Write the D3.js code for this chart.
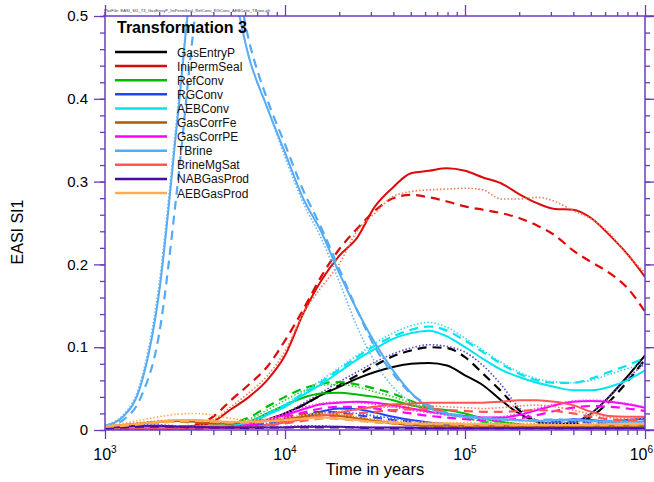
<!DOCTYPE html>
<meta charset="utf-8">
<style>

    body {
        margin: 0;
        background: #fff;
    }

    text {
        font-family: "Liberation Sans", Arial, sans-serif;
    }

    .axis-line {
        stroke: #6a3bc4;
        stroke-width: 1.5;
        fill: none;
    }

</style>
<body>
<script src="https://cdn.jsdelivr.net/npm/d3@7/dist/d3.min.js"></script>
<script>

    var width = 654;
    var height = 482;

    var LEFT = 105, RIGHT = 645, TOP = 16, BOTTOM = 430;
    var AXIS_COLOR = "#6a3bc4";

    /////////////////////////////////
    // DATA
    /////////////////////////////////

    var years = [1000, 1259, 1585, 1995, 2512, 3162, 3981, 5012, 6310, 7943,
        10000, 12589, 15849, 19953, 25119, 31623, 39811, 50119, 63096, 79433,
        100000, 125893, 158489, 199526, 251189, 316228, 398107, 501187, 630957, 794328, 1000000];

    var yTicks = [0, 0.1, 0.2, 0.3, 0.4, 0.5];
    var xTickPowers = [3, 4, 5, 6];

    var gasEntryP1 = [0.002, 0.002, 0.002, 0.002, 0.002, 0.002, 0.003, 0.004, 0.006, 0.012, 0.02, 0.03, 0.042, 0.052, 0.062, 0.07, 0.076, 0.08, 0.081, 0.078, 0.066, 0.054, 0.036, 0.02, 0.01, 0.007, 0.009, 0.02, 0.04, 0.064, 0.09];
    var gasEntryP2 = [0.002, 0.002, 0.002, 0.002, 0.002, 0.002, 0.003, 0.004, 0.006, 0.012, 0.02, 0.03, 0.042, 0.054, 0.066, 0.078, 0.089, 0.096, 0.1, 0.099, 0.088, 0.068, 0.047, 0.024, 0.01, 0.007, 0.007, 0.016, 0.034, 0.058, 0.085];
    var gasEntryP3 = [0.002, 0.002, 0.002, 0.002, 0.002, 0.002, 0.003, 0.004, 0.006, 0.012, 0.02, 0.032, 0.045, 0.058, 0.07, 0.082, 0.092, 0.099, 0.103, 0.101, 0.094, 0.078, 0.055, 0.027, 0.012, 0.008, 0.01, 0.02, 0.04, 0.062, 0.08];

    var iniPermSeal1 = [0.004, 0.004, 0.004, 0.004, 0.004, 0.005, 0.01, 0.025, 0.04, 0.06, 0.09, 0.14, 0.18, 0.21, 0.232, 0.27, 0.293, 0.31, 0.313, 0.316, 0.313, 0.305, 0.298, 0.285, 0.274, 0.267, 0.266, 0.256, 0.236, 0.213, 0.185];
    var iniPermSeal2 = [0.004, 0.004, 0.004, 0.004, 0.004, 0.006, 0.016, 0.036, 0.055, 0.076, 0.108, 0.145, 0.185, 0.218, 0.243, 0.265, 0.28, 0.284, 0.281, 0.276, 0.27, 0.266, 0.262, 0.256, 0.247, 0.235, 0.217, 0.203, 0.19, 0.172, 0.143];
    var iniPermSeal3 = [0.004, 0.004, 0.004, 0.004, 0.004, 0.005, 0.012, 0.028, 0.045, 0.065, 0.095, 0.14, 0.172, 0.2, 0.24, 0.262, 0.282, 0.288, 0.29, 0.291, 0.292, 0.29, 0.279, 0.279, 0.281, 0.276, 0.265, 0.255, 0.238, 0.212, 0.19];

    var refConv1 = [0.002, 0.002, 0.002, 0.002, 0.002, 0.002, 0.003, 0.005, 0.01, 0.02, 0.03, 0.039, 0.044, 0.045, 0.043, 0.04, 0.036, 0.03, 0.026, 0.024, 0.02, 0.014, 0.01, 0.007, 0.005, 0.004, 0.004, 0.004, 0.004, 0.004, 0.004];
    var refConv2 = [0.002, 0.002, 0.002, 0.002, 0.002, 0.003, 0.004, 0.008, 0.015, 0.028, 0.04, 0.05, 0.056, 0.058, 0.055, 0.05, 0.044, 0.035, 0.027, 0.02, 0.015, 0.01, 0.007, 0.005, 0.005, 0.004, 0.004, 0.004, 0.004, 0.004, 0.004];
    var refConv3 = [0.002, 0.002, 0.002, 0.002, 0.002, 0.003, 0.004, 0.007, 0.013, 0.024, 0.036, 0.047, 0.054, 0.055, 0.052, 0.046, 0.04, 0.033, 0.026, 0.02, 0.015, 0.01, 0.007, 0.005, 0.005, 0.004, 0.004, 0.004, 0.004, 0.004, 0.004];

    var rgConv1 = [0.003, 0.003, 0.003, 0.003, 0.003, 0.003, 0.003, 0.003, 0.004, 0.006, 0.01, 0.016, 0.022, 0.026, 0.025, 0.021, 0.016, 0.012, 0.009, 0.007, 0.006, 0.006, 0.006, 0.006, 0.006, 0.01, 0.013, 0.012, 0.01, 0.012, 0.014];
    var rgConv2 = [0.003, 0.003, 0.003, 0.003, 0.003, 0.003, 0.003, 0.003, 0.005, 0.008, 0.013, 0.019, 0.022, 0.021, 0.018, 0.015, 0.012, 0.01, 0.008, 0.007, 0.006, 0.006, 0.005, 0.005, 0.007, 0.009, 0.01, 0.009, 0.009, 0.011, 0.013];
    var rgConv3 = [0.003, 0.003, 0.003, 0.003, 0.003, 0.003, 0.003, 0.004, 0.005, 0.008, 0.012, 0.017, 0.02, 0.022, 0.02, 0.017, 0.014, 0.011, 0.009, 0.007, 0.006, 0.005, 0.005, 0.006, 0.008, 0.011, 0.012, 0.011, 0.01, 0.012, 0.015];

    var aebConv1 = [0.003, 0.003, 0.003, 0.003, 0.004, 0.004, 0.005, 0.006, 0.008, 0.018, 0.028, 0.042, 0.055, 0.07, 0.085, 0.098, 0.11, 0.117, 0.12, 0.113, 0.1, 0.086, 0.073, 0.064, 0.057, 0.052, 0.048, 0.048, 0.052, 0.06, 0.072];
    var aebConv2 = [0.003, 0.003, 0.003, 0.003, 0.004, 0.004, 0.005, 0.006, 0.009, 0.019, 0.03, 0.044, 0.058, 0.073, 0.088, 0.102, 0.113, 0.121, 0.125, 0.12, 0.108, 0.094, 0.08, 0.068, 0.06, 0.057, 0.057, 0.062, 0.07, 0.078, 0.087];
    var aebConv3 = [0.003, 0.003, 0.003, 0.003, 0.004, 0.004, 0.005, 0.007, 0.01, 0.02, 0.031, 0.045, 0.06, 0.075, 0.09, 0.105, 0.117, 0.126, 0.13, 0.124, 0.111, 0.096, 0.082, 0.07, 0.062, 0.058, 0.057, 0.06, 0.067, 0.074, 0.08];

    var gasCorrFe1 = [0.004, 0.006, 0.008, 0.01, 0.011, 0.01, 0.008, 0.008, 0.009, 0.011, 0.013, 0.016, 0.018, 0.017, 0.014, 0.011, 0.008, 0.006, 0.005, 0.005, 0.005, 0.005, 0.004, 0.004, 0.004, 0.004, 0.005, 0.005, 0.005, 0.005, 0.005];
    var gasCorrFe2 = [0.004, 0.005, 0.007, 0.009, 0.01, 0.009, 0.008, 0.008, 0.01, 0.013, 0.016, 0.019, 0.02, 0.018, 0.015, 0.011, 0.008, 0.006, 0.005, 0.005, 0.004, 0.004, 0.004, 0.004, 0.004, 0.004, 0.004, 0.005, 0.005, 0.005, 0.005];
    var gasCorrFe3 = [0.005, 0.007, 0.009, 0.011, 0.012, 0.011, 0.009, 0.008, 0.009, 0.011, 0.014, 0.017, 0.019, 0.018, 0.015, 0.012, 0.009, 0.007, 0.006, 0.005, 0.005, 0.005, 0.005, 0.004, 0.004, 0.004, 0.005, 0.005, 0.005, 0.005, 0.005];

    var gasCorrPE1 = [0.003, 0.003, 0.003, 0.003, 0.003, 0.003, 0.003, 0.003, 0.006, 0.012, 0.018, 0.025, 0.031, 0.033, 0.034, 0.033, 0.03, 0.026, 0.022, 0.019, 0.017, 0.015, 0.015, 0.018, 0.024, 0.03, 0.034, 0.035, 0.034, 0.031, 0.027];
    var gasCorrPE2 = [0.003, 0.003, 0.003, 0.003, 0.003, 0.003, 0.003, 0.004, 0.006, 0.01, 0.015, 0.021, 0.026, 0.028, 0.028, 0.026, 0.023, 0.02, 0.017, 0.015, 0.013, 0.012, 0.012, 0.014, 0.018, 0.023, 0.027, 0.029, 0.028, 0.026, 0.023];
    var gasCorrPE3 = [0.003, 0.003, 0.003, 0.003, 0.003, 0.003, 0.003, 0.004, 0.007, 0.013, 0.02, 0.027, 0.032, 0.034, 0.033, 0.031, 0.028, 0.024, 0.021, 0.018, 0.016, 0.015, 0.016, 0.02, 0.026, 0.031, 0.035, 0.036, 0.035, 0.032, 0.028];

    var tBrine1 = [0.005, 0.016, 0.055, 0.165, 0.37, 0.58, 0.66, 0.55, 0.45, 0.39, 0.335, 0.28, 0.24, 0.19, 0.145, 0.105, 0.072, 0.045, 0.027, 0.02, 0.016, 0.014, 0.013, 0.012, 0.011, 0.012, 0.012, 0.011, 0.01, 0.01, 0.01];
    var tBrine2 = [0.004, 0.012, 0.04, 0.115, 0.29, 0.5, 0.66, 0.58, 0.47, 0.4, 0.345, 0.29, 0.245, 0.195, 0.145, 0.1, 0.068, 0.044, 0.03, 0.021, 0.017, 0.015, 0.013, 0.012, 0.012, 0.013, 0.012, 0.011, 0.011, 0.01, 0.01];
    var tBrine3 = [0.006, 0.018, 0.06, 0.175, 0.38, 0.58, 0.65, 0.55, 0.45, 0.39, 0.33, 0.275, 0.232, 0.18, 0.125, 0.082, 0.052, 0.034, 0.024, 0.018, 0.015, 0.013, 0.012, 0.011, 0.011, 0.011, 0.011, 0.01, 0.01, 0.01, 0.01];

    var brineMgSat1 = [0.003, 0.003, 0.003, 0.003, 0.003, 0.003, 0.003, 0.003, 0.003, 0.006, 0.009, 0.013, 0.017, 0.021, 0.025, 0.028, 0.031, 0.032, 0.033, 0.033, 0.033, 0.033, 0.034, 0.036, 0.036, 0.034, 0.03, 0.022, 0.017, 0.016, 0.016];
    var brineMgSat2 = [0.003, 0.003, 0.003, 0.003, 0.003, 0.003, 0.003, 0.003, 0.003, 0.005, 0.008, 0.011, 0.014, 0.017, 0.02, 0.022, 0.024, 0.025, 0.025, 0.024, 0.023, 0.022, 0.022, 0.023, 0.024, 0.023, 0.02, 0.016, 0.013, 0.012, 0.012];
    var brineMgSat3 = [0.003, 0.003, 0.003, 0.003, 0.003, 0.003, 0.003, 0.003, 0.003, 0.006, 0.01, 0.014, 0.018, 0.022, 0.025, 0.027, 0.028, 0.029, 0.029, 0.028, 0.027, 0.026, 0.027, 0.029, 0.03, 0.028, 0.024, 0.019, 0.015, 0.014, 0.014];

    var nabGasProd1 = [0.003, 0.004, 0.005, 0.005, 0.004, 0.004, 0.003, 0.003, 0.003, 0.003, 0.003, 0.004, 0.004, 0.004, 0.003, 0.003, 0.003, 0.003, 0.002, 0.002, 0.002, 0.002, 0.002, 0.002, 0.002, 0.002, 0.002, 0.002, 0.002, 0.002, 0.002];
    var nabGasProd2 = [0.002, 0.003, 0.004, 0.004, 0.004, 0.003, 0.003, 0.003, 0.002, 0.003, 0.003, 0.003, 0.003, 0.003, 0.003, 0.002, 0.002, 0.002, 0.002, 0.002, 0.002, 0.002, 0.002, 0.002, 0.002, 0.002, 0.002, 0.002, 0.002, 0.002, 0.002];
    var nabGasProd3 = [0.003, 0.005, 0.006, 0.006, 0.005, 0.004, 0.004, 0.003, 0.003, 0.003, 0.004, 0.005, 0.005, 0.004, 0.004, 0.003, 0.003, 0.003, 0.003, 0.003, 0.003, 0.003, 0.003, 0.003, 0.003, 0.003, 0.003, 0.003, 0.003, 0.003, 0.003];

    var aebGasProd1 = [0.004, 0.006, 0.008, 0.01, 0.012, 0.012, 0.011, 0.01, 0.01, 0.011, 0.012, 0.014, 0.015, 0.014, 0.012, 0.01, 0.009, 0.008, 0.008, 0.008, 0.007, 0.007, 0.007, 0.006, 0.006, 0.006, 0.006, 0.006, 0.007, 0.007, 0.007];
    var aebGasProd2 = [0.004, 0.005, 0.007, 0.009, 0.01, 0.011, 0.01, 0.009, 0.009, 0.01, 0.012, 0.013, 0.014, 0.013, 0.011, 0.009, 0.008, 0.007, 0.007, 0.007, 0.006, 0.006, 0.006, 0.006, 0.006, 0.006, 0.006, 0.006, 0.006, 0.006, 0.006];
    var aebGasProd3 = [0.005, 0.008, 0.012, 0.016, 0.019, 0.02, 0.018, 0.014, 0.012, 0.013, 0.015, 0.018, 0.02, 0.019, 0.016, 0.013, 0.011, 0.01, 0.009, 0.009, 0.009, 0.008, 0.008, 0.008, 0.008, 0.008, 0.008, 0.008, 0.008, 0.008, 0.008];

    // name, colour, colour of the dotted run, and the three runs (solid, dashed, dotted)
    var series = [
        {name: "GasEntryP", color: "#000000", dot: "#5a46c8", runs: [gasEntryP1, gasEntryP2, gasEntryP3]},
        {name: "IniPermSeal", color: "#dd0a0a", dot: "#f07a5a", runs: [iniPermSeal1, iniPermSeal2, iniPermSeal3]},
        {name: "RefConv", color: "#00bb00", dot: "#33cc33", runs: [refConv1, refConv2, refConv3]},
        {name: "RGConv", color: "#2244ff", dot: "#4466ff", runs: [rgConv1, rgConv2, rgConv3]},
        {name: "AEBConv", color: "#00e5f0", dot: "#33d8f0", runs: [aebConv1, aebConv2, aebConv3]},
        {name: "GasCorrFe", color: "#b35a00", dot: "#c07020", runs: [gasCorrFe1, gasCorrFe2, gasCorrFe3]},
        {name: "GasCorrPE", color: "#ff00ff", dot: "#ff33ff", runs: [gasCorrPE1, gasCorrPE2, gasCorrPE3]},
        {name: "TBrine", color: "#55aaf5", dot: "#66b4f8", runs: [tBrine1, tBrine2, tBrine3]},
        {name: "BrineMgSat", color: "#ff5555", dot: "#ff7755", runs: [brineMgSat1, brineMgSat2, brineMgSat3]},
        {name: "NABGasProd", color: "#4b0aa0", dot: "#5a2ab0", runs: [nabGasProd1, nabGasProd2, nabGasProd3]},
        {name: "AEBGasProd", color: "#ffaa55", dot: "#ffaa55", runs: [aebGasProd1, aebGasProd2, aebGasProd3]}
    ];

    var runStyles = [
        {dash: null, width: 2},
        {dash: "9,6", width: 2.2},
        {dash: "1.5,2", width: 1.6}
    ];

    /////////////////////////////////
    // SETUP
    /////////////////////////////////

    var svg = d3.select("body").append("svg")
        .attr("width", width)
        .attr("height", height);

    var x = d3.scaleLog()
        .domain([1000, 1000000])
        .range([LEFT, RIGHT]);

    var y = d3.scaleLinear()
        .domain([0, 0.5])
        .range([BOTTOM, TOP]);

    svg.append("clipPath")
        .attr("id", "plot-clip")
        .append("rect")
        .attr("x", LEFT)
        .attr("y", TOP)
        .attr("width", RIGHT - LEFT)
        .attr("height", BOTTOM - TOP);

    /////////////////////////////////
    // LINES
    /////////////////////////////////

    var line = d3.line()
        .x(function (d, i) { return x(years[i]); })
        .y(function (d) { return y(d); })
        .curve(d3.curveMonotoneX);

    var plot = svg.append("g").attr("clip-path", "url(#plot-clip)");

    series.forEach(function (s) {
        s.runs.forEach(function (run, k) {
            plot.append("path")
                .datum(run)
                .attr("d", line)
                .attr("fill", "none")
                .attr("stroke", k === 2 ? s.dot : s.color)
                .attr("stroke-width", runStyles[k].width)
                .attr("stroke-dasharray", runStyles[k].dash)
                .attr("stroke-linejoin", "round");
        });
    });

    /////////////////////////////////
    // AXES
    /////////////////////////////////

    var yMinor = d3.range(0, 0.5001, 0.02);
    var xMinor = [];
    xTickPowers.slice(0, 3).forEach(function (p) {
        for (var m = 2; m <= 9; m++) xMinor.push(m * Math.pow(10, p));
    });

    var leftAxis = d3.axisLeft(y).tickValues(yMinor).tickSize(5).tickFormat("");
    var rightAxis = d3.axisRight(y).tickValues(yMinor).tickSize(5).tickFormat("");
    var bottomAxis = d3.axisBottom(x).tickValues(xMinor).tickSize(5).tickFormat("");
    var topAxis = d3.axisTop(x).tickValues(xMinor).tickSize(4).tickFormat("");

    function styleAxis(g) {
        g.select(".domain").remove();
        g.selectAll("line").attr("stroke", AXIS_COLOR).attr("stroke-width", 1.3);
    }

    svg.append("g").attr("transform", "translate(" + LEFT + ",0)").call(leftAxis).call(styleAxis);
    svg.append("g").attr("transform", "translate(" + RIGHT + ",0)").call(rightAxis).call(styleAxis);
    svg.append("g").attr("transform", "translate(0," + BOTTOM + ")").call(bottomAxis).call(styleAxis);
    svg.append("g").attr("transform", "translate(0," + TOP + ")").call(topAxis).call(styleAxis);

    // major ticks
    svg.append("g").attr("transform", "translate(" + LEFT + ",0)")
        .call(d3.axisLeft(y).tickValues(yTicks).tickSize(11).tickFormat("")).call(styleAxis);
    svg.append("g").attr("transform", "translate(" + RIGHT + ",0)")
        .call(d3.axisRight(y).tickValues(yTicks).tickSize(9).tickFormat("")).call(styleAxis);

    var xMajor = xTickPowers.map(function (p) { return Math.pow(10, p); });
    svg.append("g").attr("transform", "translate(0," + BOTTOM + ")")
        .call(d3.axisBottom(x).tickValues(xMajor).tickSize(9).tickFormat("")).call(styleAxis);
    svg.append("g").attr("transform", "translate(0," + TOP + ")")
        .call(d3.axisTop(x).tickValues(xMajor).tickSize(11).tickFormat("")).call(styleAxis);

    // frame
    svg.append("line").attr("class", "axis-line")
        .attr("x1", LEFT).attr("x2", LEFT).attr("y1", TOP - 4).attr("y2", BOTTOM);
    svg.append("line").attr("class", "axis-line")
        .attr("x1", RIGHT).attr("x2", RIGHT).attr("y1", TOP).attr("y2", BOTTOM);
    svg.append("line").attr("class", "axis-line")
        .attr("x1", LEFT - 2).attr("x2", width).attr("y1", TOP).attr("y2", TOP);
    svg.append("line").attr("class", "axis-line")
        .attr("x1", LEFT).attr("x2", width).attr("y1", BOTTOM).attr("y2", BOTTOM);

    // tick labels
    svg.selectAll("text.ylab")
        .data(yTicks)
        .enter().append("text")
        .attr("class", "ylab")
        .attr("x", 88)
        .attr("y", function (d) { return y(d); })
        .attr("dy", "0.35em")
        .attr("text-anchor", "end")
        .style("font-size", "15px")
        .text(function (d) { return d === 0 ? "0" : d3.format(".1f")(d); });

    // the last label is pulled in so it stays inside the page
    var xl = svg.selectAll("text.xlab")
        .data(xTickPowers)
        .enter().append("text")
        .attr("class", "xlab")
        .attr("x", function (d, i) { return i === xTickPowers.length - 1 ? 653 : x(Math.pow(10, d)); })
        .attr("y", 460)
        .attr("text-anchor", function (d, i) { return i === xTickPowers.length - 1 ? "end" : "middle"; })
        .style("font-size", "16px");
    xl.append("tspan").text("10");
    xl.append("tspan")
        .attr("dy", -7)
        .style("font-size", "10px")
        .text(function (d) { return d; });

    svg.append("text")
        .attr("x", 375)
        .attr("y", 475)
        .attr("text-anchor", "middle")
        .style("font-size", "16.5px")
        .text("Time in years");

    svg.append("text")
        .attr("transform", "translate(23,232) rotate(-90)")
        .attr("text-anchor", "middle")
        .style("font-size", "16px")
        .text("EASI SI1");

    // tiny header line above the frame
    svg.append("text")
        .attr("x", 104)
        .attr("y", 12)
        .attr("textLength", 166)
        .style("font-size", "4px")
        .style("fill", "#333")
        .text("PlotFile: EASI_SI1_T3_GasEntryP_IniPermSeal_RefConv_RGConv_AEBConv_TBrine.plt");

    /////////////////////////////////
    // LEGEND
    /////////////////////////////////

    svg.append("text")
        .attr("x", 117)
        .attr("y", 33)
        .style("font-size", "16px")
        .style("font-weight", "bold")
        .text("Transformation 3");

    var legend = svg.selectAll("g.legend")
        .data(series)
        .enter().append("g")
        .attr("class", "legend")
        .attr("transform", function (d, i) { return "translate(0," + (52 + i * 14.1) + ")"; });

    legend.append("line")
        .attr("x1", 115).attr("x2", 167)
        .attr("stroke", function (d) { return d.color; })
        .attr("stroke-width", 2.5);

    legend.append("text")
        .attr("x", 177)
        .attr("y", 4.5)
        .style("font-size", "12px")
        .style("fill", "#111")
        .text(function (d) { return d.name; });

</script>
</body>
</html>
